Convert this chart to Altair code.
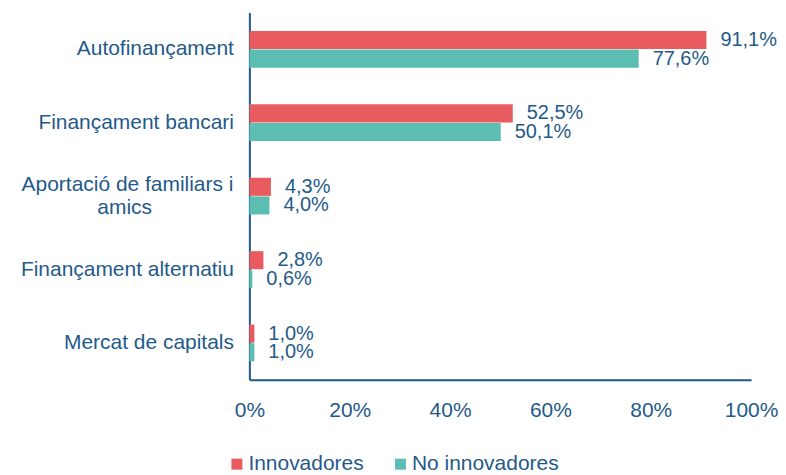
import altair as alt
import pandas as pd

categories = ["Autofinançament", "Finançament bancari", "Aportació de familiars i amics",
              "Finançament alternatiu", "Mercat de capitals"]
series = ["Innovadores", "No innovadores"]
innovadores = [91.1, 52.5, 4.3, 2.8, 1.0]
no_innovadores = [77.6, 50.1, 4.0, 0.6, 1.0]
x_ticks = [0, 20, 40, 60, 80, 100]
colors = ["#E85C60", "#5CBDB3"]
wrapped_cat = "Aportació de familiars i amics"
wrapped_lines = ["Aportació de familiars i", "amics"]

rows = []
for c, a, b in zip(categories, innovadores, no_innovadores):
    rows.append({"cat": c, "serie": series[0], "v": a})
    rows.append({"cat": c, "serie": series[1], "v": b})
df = pd.DataFrame(rows)

TXT = "#1F5A8A"
FONT = "Liberation Sans"

label_expr = "datum.value == '" + wrapped_cat + "' ? '' : datum.value"

y_enc = alt.Y("cat:N", sort=categories, title=None,
              scale=alt.Scale(paddingInner=0.5, paddingOuter=0.25),
              axis=alt.Axis(labelExpr=label_expr, labelPadding=16, ticks=False,
                            labelLimit=400, domainColor=TXT, domainWidth=2))
yoff = alt.YOffset("serie:N", sort=series, scale=alt.Scale(paddingInner=0.03))

base = alt.Chart(df).encode(y=y_enc, yOffset=yoff)

bars = base.mark_bar().encode(
    x=alt.X("v:Q", scale=alt.Scale(domain=[0, 100]), title=None,
            axis=alt.Axis(values=x_ticks, labelExpr="datum.value + '%'", ticks=False,
                          grid=False, labelPadding=20, labelFlush=False,
                          domainColor=TXT, domainWidth=2)),
    color=alt.Color("serie:N", sort=series, title=None,
                    scale=alt.Scale(domain=series, range=colors),
                    legend=alt.Legend(orient="none", legendX=-23, legendY=442,
                                      direction="horizontal", symbolType="square",
                                      symbolSize=121, symbolStrokeWidth=0,
                                      columnPadding=26, labelOffset=1)),
)

text = base.transform_calculate(
    lab="replace(format(datum.v, '.1f'), '.', ',') + '%'"
).mark_text(align="left", baseline="middle", dx=14, font=FONT, fontSize=20, color=TXT).encode(
    x="v:Q", text="lab:N"
)

wrap_df = pd.DataFrame({"cat": [wrapped_cat], "l1": [wrapped_lines[0]], "l2": [wrapped_lines[1]]})
first_line = alt.Chart(wrap_df).mark_text(
    align="right", baseline="middle", dy=-11, font=FONT, fontSize=21, color=TXT
).encode(y=alt.Y("cat:N", sort=categories), x=alt.value(-16), text="l1:N")
second_line = alt.Chart(wrap_df).mark_text(
    align="center", baseline="middle", dy=12, font=FONT, fontSize=21, color=TXT
).encode(y=alt.Y("cat:N", sort=categories), x=alt.value(-125), text="l2:N")

chart = alt.layer(bars, text, first_line, second_line).properties(
    width=503, height=368,
    padding={"left": 12, "top": 4, "right": 0, "bottom": 0},
).configure_view(
    stroke=None
).configure_axis(
    labelFont=FONT, labelFontSize=21, labelColor=TXT
).configure_legend(
    labelFont=FONT, labelFontSize=21, labelColor=TXT
)

chart.save("out.html", embed_options={"renderer": "svg", "actions": False})
